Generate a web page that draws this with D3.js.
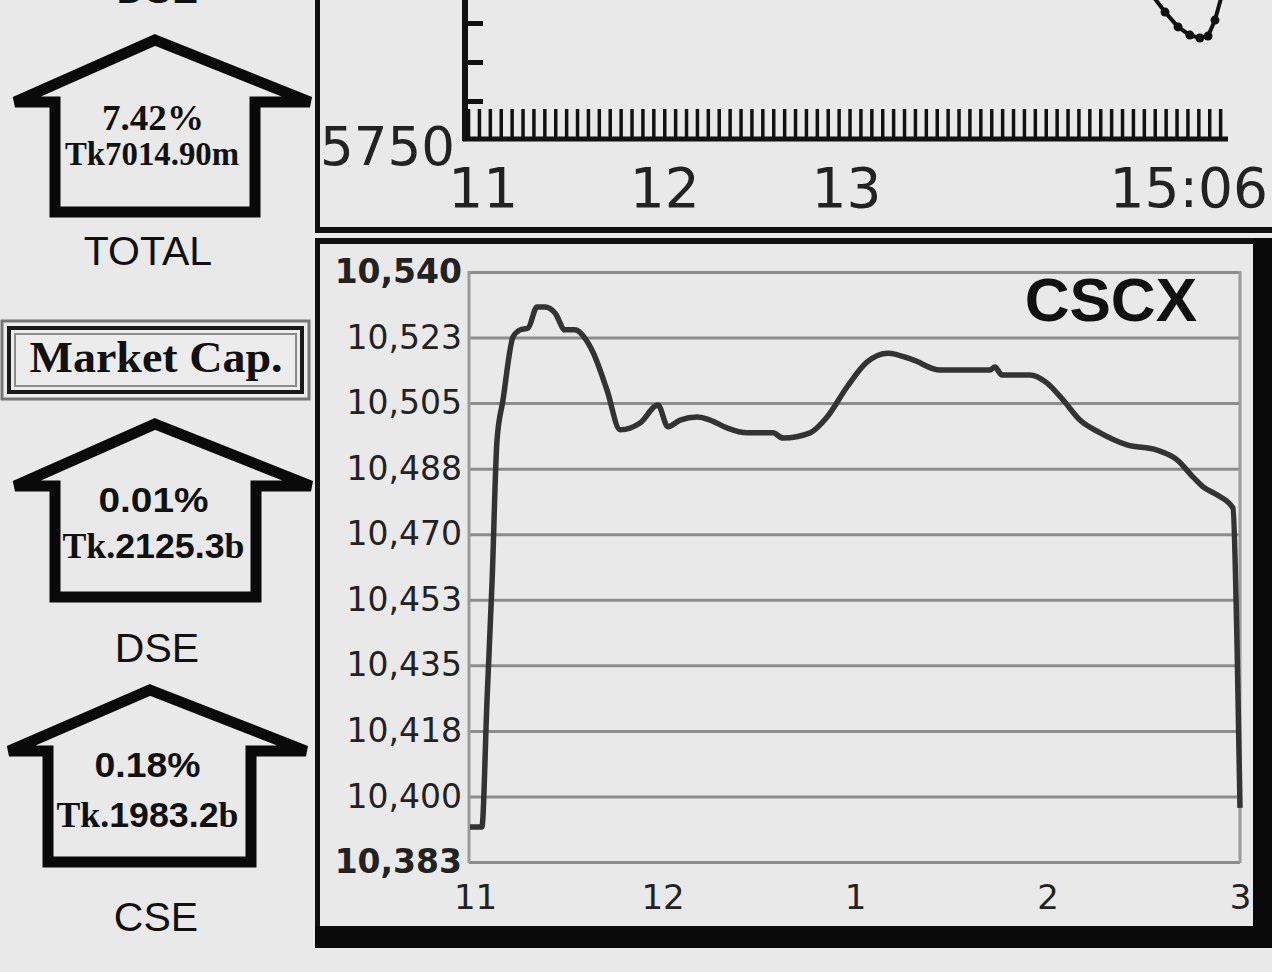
<!DOCTYPE html>
<html><head><meta charset="utf-8">
<script src="https://cdn.jsdelivr.net/npm/d3@7"></script>
<style>
html,body{margin:0;padding:0;background:#e9e9e9;}
svg{display:block;}
</style></head>
<body>
<script>
// ---------- DATA ----------
// CSCX intraday (minutes after 11:00)
const times = [0,3.7,5.3,6.9,8.4,10.3,13.4,15.6,18.1,20.9,23.4,26.5,29.6,32.7,35.8,38.3,42.7,46.8,53.0,58.6,61.7,65.5,70.8,74.8,80.1,86.3,94.4,97.6,106,111.3,117.5,123.7,130.3,138.1,146.5,162.1,163.6,165.8,174.5,179.8,184.8,190.1,196.4,204.8,214.1,220.4,225.4,228.5,232.8,237.8,239.1,240];
const cscx = [10392.3,10392.3,10426,10458,10495,10506,10522.7,10524.6,10525.1,10530.7,10530.7,10529.1,10524.6,10524.6,10522.4,10518.7,10508.6,10498,10499.8,10504.6,10498.8,10500.6,10501.4,10500.6,10498.5,10497.2,10497.2,10495.8,10497.2,10501.4,10509.4,10516,10518.4,10516.6,10513.9,10513.9,10514.7,10512.6,10512.6,10510.5,10506,10500.6,10497.2,10494,10492.6,10490,10485.4,10482.8,10480.7,10477.2,10440,10397.4];
const yMin = 10383, yMax = 10540;
const xTickMinutes = [0,60,120,180,240];
const xTickLabels = ["11","12","1","2","3"];
const chartTitle = "CSCX";

// Top (DSE) chart tail, minutes after 11:00
const topTimes = [220.9,225.2,229.5,233.4,236.7,239.4,241.7,244];
const topValues = [5824.4,5815.6,5808,5803.8,5802.3,5803.3,5811.5,5824.4];
const topTickMinutes = [0,60,120,246];
const topTickLabels = ["11","12","13","15:06"];
const topYLabel = "5750";

// Left panel
const boxPct = ["7.42%","0.01%","0.18%"];
const boxPrefix = ["Tk","Tk.","Tk."];
const boxNum = ["7014.90","2125.3","1983.2"];
const boxUnit = ["m","b","b"];
const boxNames = ["TOTAL","DSE","CSE"];
const panelTitle = "Market Cap.";

// ---------- DRAW ----------
const W = 1272, H = 972;
const svg = d3.select("body").append("svg").attr("width", W).attr("height", H);
svg.append("rect").attr("width", W).attr("height", H).attr("fill", "#e9e9e9");

const SANS = "'DejaVu Sans', Verdana, sans-serif";
const ARIAL = "'Liberation Sans', Arial, sans-serif";
const SERIF = "'Liberation Serif', 'Times New Roman', serif";

// ===== TOP CHART (cut off) =====
const xTop = d3.scaleLinear().domain([-6, 246]).range([465, 1228]);
const yTop = d3.scaleLinear().domain([5750, 5830]).range([140, -16]);
const topG = svg.append("g");
topG.append("line").attr("x1", 317.5).attr("x2", 317.5).attr("y1", 0).attr("y2", 233).attr("stroke", "#111").attr("stroke-width", 5);
topG.append("line").attr("x1", 315).attr("x2", W).attr("y1", 230).attr("y2", 230).attr("stroke", "#111").attr("stroke-width", 6);
const minor = d3.range(-5, 246, 3.6);
topG.append("g").attr("transform", "translate(0,139)")
  .call(d3.axisBottom(xTop).tickValues(minor).tickSize(-30).tickFormat(""))
  .call(g => { g.select(".domain").remove(); g.selectAll(".tick line").attr("stroke", "#111").attr("stroke-width", 3.5); });
topG.append("g").attr("transform", "translate(465,0)")
  .call(d3.axisRight(yTop).tickValues([5770, 5790, 5810]).tickSize(18).tickFormat(""))
  .call(g => { g.select(".domain").remove(); g.selectAll(".tick line").attr("stroke", "#111").attr("stroke-width", 5); });
topG.append("line").attr("x1", 465).attr("x2", 465).attr("y1", 0).attr("y2", 141).attr("stroke", "#111").attr("stroke-width", 6);
topG.append("line").attr("x1", 463).attr("x2", 1228).attr("y1", 139).attr("y2", 139).attr("stroke", "#111").attr("stroke-width", 5);
topG.append("text").attr("x", 455).attr("y", yTop(5750) + 25).attr("text-anchor", "end")
  .attr("font-family", SANS).attr("font-size", 53).attr("fill", "#222").text(topYLabel);
topG.selectAll("text.tx").data(topTickMinutes).join("text").attr("class", "tx")
  .attr("x", (d, i) => i === topTickMinutes.length - 1 ? xTop(d) + 40 : xTop(d))
  .attr("y", 207)
  .attr("text-anchor", (d, i) => i === topTickMinutes.length - 1 ? "end" : "middle")
  .attr("font-family", SANS).attr("font-size", 55).attr("fill", "#222")
  .text((d, i) => topTickLabels[i]);
const topPts = topTimes.map((t, i) => [t, topValues[i]]);
topG.append("path").datum(topPts)
  .attr("d", d3.line().x(d => xTop(d[0])).y(d => yTop(d[1])))
  .attr("fill", "none").attr("stroke", "#111").attr("stroke-width", 4);
topG.selectAll("circle").data(topPts).join("circle")
  .attr("cx", d => xTop(d[0])).attr("cy", d => yTop(d[1])).attr("r", 4.5).attr("fill", "#111");

// ===== MAIN CHART =====
const x = d3.scaleLinear().domain([0, 240]).range([470, 1240]);
const y = d3.scaleLinear().domain([yMin, yMax]).range([862, 272]);
const yTicks = d3.range(10).map(i => yMin + i * (yMax - yMin) / 9);
const main = svg.append("g");

main.append("g").attr("transform", "translate(469,0)")
  .call(d3.axisLeft(y).tickValues(yTicks).tickSize(-771).tickPadding(7).tickFormat(d3.format(",.0f")))
  .call(g => {
    g.select(".domain").remove();
    g.selectAll(".tick line").attr("stroke", "#8c8c8c").attr("stroke-width", 3);
    g.selectAll(".tick text").attr("font-family", SANS).attr("font-size", 33).attr("fill", "#222")
      .attr("font-weight", (d, i) => (i === 0 || i === yTicks.length - 1) ? "bold" : "normal");
  });
main.append("line").attr("x1", 469).attr("x2", 469).attr("y1", 271).attr("y2", 863).attr("stroke", "#9a9a9a").attr("stroke-width", 3);
main.append("line").attr("x1", 1240).attr("x2", 1240).attr("y1", 271).attr("y2", 863).attr("stroke", "#9a9a9a").attr("stroke-width", 3);

main.append("g").attr("transform", "translate(0,862)")
  .call(d3.axisBottom(x).tickValues(xTickMinutes).tickSize(0).tickPadding(23).tickFormat((d, i) => xTickLabels[i]))
  .call(g => {
    g.select(".domain").remove();
    g.selectAll(".tick text").attr("font-family", SANS).attr("font-size", 34).attr("fill", "#222")
      .attr("dx", (d, i) => i === 0 ? 5 : 0);
  });

main.append("text").attr("x", 1197).attr("y", 321).attr("text-anchor", "end")
  .attr("font-family", ARIAL).attr("font-weight", "bold").attr("font-size", 62).attr("fill", "#111").text(chartTitle);

const pts = times.map((t, i) => [t, cscx[i]]);
main.append("path").datum(pts)
  .attr("d", d3.line().x(d => x(d[0])).y(d => y(d[1])).curve(d3.curveMonotoneX))
  .attr("fill", "none").attr("stroke", "#333").attr("stroke-width", 5.5)
  .attr("stroke-linejoin", "round").attr("stroke-linecap", "butt");

main.append("line").attr("x1", 317.5).attr("x2", 317.5).attr("y1", 238).attr("y2", 948).attr("stroke", "#111").attr("stroke-width", 5);
main.append("line").attr("x1", 315).attr("x2", W).attr("y1", 241).attr("y2", 241).attr("stroke", "#111").attr("stroke-width", 6);
main.append("rect").attr("x", 1253).attr("y", 238).attr("width", W - 1253).attr("height", 710).attr("fill", "#0a0a0a");
main.append("rect").attr("x", 315).attr("y", 926).attr("width", W - 315).attr("height", 22).attr("fill", "#0a0a0a");

// ===== LEFT PANEL =====
const left = svg.append("g");
left.append("text").attr("x", 157).attr("y", 3).attr("text-anchor", "middle")
  .attr("font-family", ARIAL).attr("font-size", 40).attr("fill", "#111").text("DSE");

const arrows = [
  {apex: 40, tipY: 102, tl: 15, tr: 310, sl: 55, sr: 255, bottom: 212, cx: 155},
  {apex: 424, tipY: 486, tl: 15, tr: 311, sl: 55, sr: 256, bottom: 597, cx: 155},
  {apex: 690, tipY: 751, tl: 9, tr: 306, sl: 48, sr: 251, bottom: 862, cx: 150}
];
const pctY = [130, 512, 777];
const valY = [165, 558, 827];
const nameY = [265, 662, 931];
const nameX = [148, 157, 156];
const pctW = [102, 110, 106];
const valW = [174, 182, 182];

arrows.forEach((a, i) => {
  const path = `M${a.cx},${a.apex} L${a.tr},${a.tipY} L${a.sr},${a.tipY} L${a.sr},${a.bottom} L${a.sl},${a.bottom} L${a.sl},${a.tipY} L${a.tl},${a.tipY} Z`;
  left.append("path").attr("d", path).attr("fill", "none").attr("stroke", "#0a0a0a")
    .attr("stroke-width", 11).attr("stroke-linejoin", "miter").attr("stroke-miterlimit", 3);
  const cx = (a.sl + a.sr) / 2;
  if (i === 0) {
    left.append("text").attr("x", cx - 2).attr("y", pctY[i]).attr("text-anchor", "middle")
      .attr("font-family", SERIF).attr("font-weight", "bold").attr("font-size", 36).attr("fill", "#111")
      .attr("textLength", pctW[i]).attr("lengthAdjust", "spacingAndGlyphs").text(boxPct[i]);
    left.append("text").attr("x", cx - 3).attr("y", valY[i]).attr("text-anchor", "middle")
      .attr("font-family", SERIF).attr("font-weight", "bold").attr("font-size", 34).attr("fill", "#111")
      .attr("textLength", valW[i]).attr("lengthAdjust", "spacingAndGlyphs")
      .text(boxPrefix[i] + boxNum[i] + boxUnit[i]);
  } else {
    left.append("text").attr("x", cx - 2).attr("y", pctY[i]).attr("text-anchor", "middle")
      .attr("font-family", ARIAL).attr("font-weight", "bold").attr("font-size", 35).attr("fill", "#111")
      .attr("textLength", pctW[i]).attr("lengthAdjust", "spacingAndGlyphs").text(boxPct[i]);
    const t = left.append("text").attr("x", cx - 2).attr("y", valY[i]).attr("text-anchor", "middle")
      .attr("font-size", 35).attr("fill", "#111").attr("font-weight", "bold")
      .attr("textLength", valW[i]).attr("lengthAdjust", "spacingAndGlyphs");
    t.append("tspan").attr("font-family", SERIF).text(boxPrefix[i]);
    t.append("tspan").attr("font-family", ARIAL).text(boxNum[i]);
    t.append("tspan").attr("font-family", SERIF).text(boxUnit[i]);
  }
  left.append("text").attr("x", nameX[i]).attr("y", nameY[i]).attr("text-anchor", "middle")
    .attr("font-family", ARIAL).attr("font-size", 41).attr("fill", "#111").text(boxNames[i]);
});

left.append("rect").attr("x", 2).attr("y", 321).attr("width", 307).attr("height", 78)
  .attr("fill", "#ececec").attr("stroke", "#777").attr("stroke-width", 3);
left.append("rect").attr("x", 9).attr("y", 328).attr("width", 293).attr("height", 64)
  .attr("fill", "none").attr("stroke", "#1a1a1a").attr("stroke-width", 4);
left.append("rect").attr("x", 15).attr("y", 334).attr("width", 281).attr("height", 52)
  .attr("fill", "none").attr("stroke", "#8a8a8a").attr("stroke-width", 2);
left.append("text").attr("x", 156).attr("y", 372).attr("text-anchor", "middle")
  .attr("font-family", SERIF).attr("font-weight", "bold").attr("font-size", 44).attr("fill", "#111")
  .attr("textLength", 253).attr("lengthAdjust", "spacingAndGlyphs").text(panelTitle);
</script>
</body></html>
